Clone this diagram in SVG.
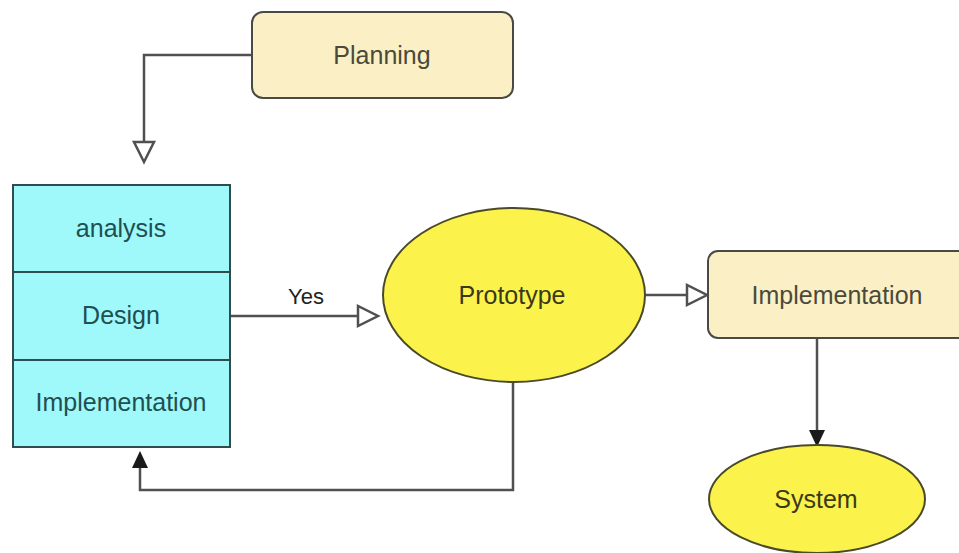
<svg xmlns="http://www.w3.org/2000/svg" width="959" height="553" viewBox="0 0 959 553">
<defs>
<style>
.t{font-family:"Liberation Sans",Arial,sans-serif;font-size:25px;text-anchor:middle;dominant-baseline:central}
.ln{fill:none;stroke:#505050;stroke-width:2.5}
.box{fill:#fbefc6;stroke:#4a4a44;stroke-width:2}
.cyan{fill:#9ff8fa;stroke:#2f4d4f;stroke-width:2}
.yel{fill:#fbf34c;stroke:#4a4a2a;stroke-width:2}
.hol{fill:#ffffff;stroke:#505050;stroke-width:2.5;stroke-linejoin:miter}
.fil{fill:#1a1a1a;stroke:none}
</style>
</defs>
<rect width="959" height="553" fill="#ffffff"/>
<g id="connectors">
<path class="ln" d="M252,55 H144 V142"/>
<polygon class="hol" points="134,142 154,142 144,162"/>
<path class="ln" d="M230,316 H358"/>
<polygon class="hol" points="358,306 358,326 378,316"/>
<text class="t" x="306" y="296" style="font-size:22px;fill:#222">Yes</text>
<path class="ln" d="M645,295 H687"/>
<polygon class="hol" points="687,285 687,305 707,295"/>
<path class="ln" d="M817,338 V432"/>
<polygon class="fil" points="809,430 825,430 817,447"/>
<path class="ln" d="M513,382 V490 H140 V466"/>
<polygon class="fil" points="132,468 148,468 140,451"/>
</g>
<g id="planning">
<rect class="box" x="252" y="12" width="261" height="86" rx="11"/>
<text class="t" x="382" y="55" fill="#4a4a3a">Planning</text>
</g>
<g id="stack">
<rect class="cyan" x="13" y="185" width="217" height="262"/>
<line x1="13" y1="272" x2="230" y2="272" stroke="#2f4d4f" stroke-width="2"/>
<line x1="13" y1="360" x2="230" y2="360" stroke="#2f4d4f" stroke-width="2"/>
<text class="t" x="121" y="228" fill="#1f4f50">analysis</text>
<text class="t" x="121" y="315" fill="#1f4f50">Design</text>
<text class="t" x="121" y="402" fill="#1f4f50">Implementation</text>
</g>
<g id="prototype">
<ellipse class="yel" cx="514" cy="295" rx="131" ry="87"/>
<text class="t" x="512" y="295" fill="#3a3a18">Prototype</text>
</g>
<g id="implementation">
<rect class="box" x="708" y="251" width="262" height="87" rx="10"/>
<text class="t" x="837" y="295" fill="#4a4a3a">Implementation</text>
</g>
<g id="system">
<ellipse class="yel" cx="817" cy="499" rx="108" ry="54"/>
<text class="t" x="816" y="499" fill="#3a3a18">System</text>
</g>
</svg>
